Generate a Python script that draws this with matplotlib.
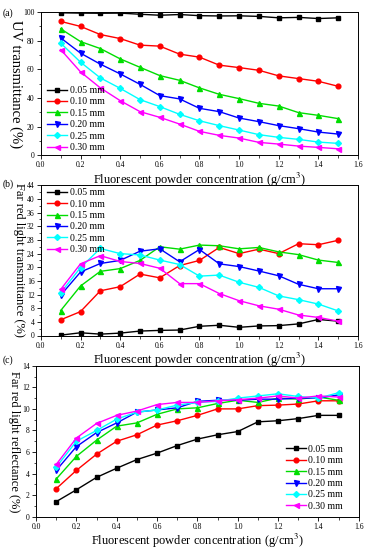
import numpy as np
import matplotlib
matplotlib.use("Agg")
import matplotlib.pyplot as plt
from matplotlib.ticker import MultipleLocator, AutoMinorLocator, FormatStrFormatter

plt.rcParams["font.family"] = ["Liberation Serif", "DejaVu Serif"]
plt.rcParams["mathtext.fontset"] = "stix"

conc = [0.1, 0.2, 0.3, 0.4, 0.5, 0.6, 0.7, 0.8, 0.9, 1.0, 1.1, 1.2, 1.3, 1.4, 1.5]
labels = ["0.05 mm", "0.10 mm", "0.15 mm", "0.20 mm", "0.25 mm", "0.30 mm"]

# (a) UV transmittance (%)
uv_trans = [
    [99.5, 99.3, 99.2, 99.3, 98.5, 97.8, 98.3, 97.5, 97.3, 97.4, 97.0, 96.0, 96.3, 95.5, 96.0],
    [93.5, 90.0, 84.3, 81.5, 76.9, 76.2, 70.6, 68.5, 62.9, 61.2, 59.3, 55.4, 53.5, 51.6, 48.1],
    [88.3, 79.4, 74.5, 67.3, 61.4, 55.6, 52.3, 47.0, 42.5, 39.5, 36.2, 34.3, 29.7, 27.8, 25.5],
    [82.0, 71.3, 63.6, 56.8, 49.5, 41.6, 39.3, 32.7, 30.4, 25.9, 23.4, 20.6, 18.5, 16.1, 14.7],
    [78.3, 65.0, 54.0, 46.7, 38.8, 33.9, 28.5, 24.0, 20.6, 17.5, 14.3, 12.4, 11.0, 9.1, 8.2],
    [73.8, 58.2, 47.0, 38.1, 30.4, 26.4, 21.7, 16.6, 13.8, 11.9, 8.9, 7.7, 6.3, 5.4, 4.4],
]

# (b) Far red light transmittance (%)
fr_trans = [
    [0.1, 0.8, 0.4, 0.7, 1.3, 1.5, 1.6, 2.7, 3.0, 2.4, 2.8, 2.9, 3.4, 4.7, 4.2],
    [4.6, 7.0, 13.1, 14.3, 18.0, 16.9, 20.5, 22.0, 25.8, 24.0, 25.3, 24.0, 26.9, 26.6, 27.9],
    [7.3, 14.5, 18.8, 19.6, 22.0, 26.0, 25.3, 26.5, 26.3, 25.4, 25.8, 24.5, 23.7, 22.1, 21.4],
    [11.8, 18.6, 21.1, 22.0, 24.7, 25.4, 21.6, 25.2, 21.0, 20.2, 18.9, 17.5, 15.0, 13.7, 13.7],
    [12.5, 19.9, 25.5, 24.0, 23.6, 22.1, 20.8, 17.4, 17.7, 15.6, 14.1, 11.6, 10.5, 9.2, 7.2],
    [13.5, 21.0, 23.4, 21.7, 21.1, 19.7, 15.2, 15.2, 12.3, 10.2, 8.7, 7.7, 6.0, 5.3, 4.2],
]

# (c) Far red light reflectance (%)
fr_refl = [
    [1.4, 2.5, 3.65, 4.5, 5.3, 5.9, 6.6, 7.2, 7.6, 7.9, 8.8, 8.9, 9.1, 9.4, 9.4],
    [2.6, 4.3, 5.8, 7.0, 7.6, 8.5, 8.9, 9.4, 10.0, 10.0, 10.3, 10.35, 10.45, 10.75, 10.75],
    [3.5, 5.6, 7.1, 8.4, 8.7, 9.5, 10.0, 10.1, 10.5, 10.8, 10.6, 11.0, 10.9, 11.1, 10.8],
    [4.3, 6.5, 7.8, 8.7, 9.7, 9.9, 10.1, 10.7, 10.8, 10.8, 10.9, 10.9, 11.0, 11.0, 11.3],
    [4.6, 7.0, 8.0, 9.05, 9.7, 9.9, 10.35, 10.6, 10.7, 11.0, 11.2, 11.4, 11.15, 11.0, 11.5],
    [4.85, 7.3, 8.65, 9.4, 9.8, 10.4, 10.6, 10.6, 10.75, 10.85, 11.0, 11.2, 11.0, 11.2, 11.1],
]

colors = ["black", "red", "#00dd00", "blue", "cyan", "magenta"]
markers = ["s", "o", "^", "v", "D", "<"]
msizes = [3.2, 3.4, 3.6, 3.6, 3.0, 3.6]

XLABEL = r"Fluorescent powder concentration (g/cm$^3$)"


def draw_panel(ax, data, ylim, ystep, ylabel, ylabel_size, legend_loc, legend_anchor):
    for vals, c, m, ms, lab in zip(data, colors, markers, msizes, labels):
        ax.plot(conc, vals, color=c, marker=m, markersize=ms, linewidth=1.0, label=lab)
    ax.set_xlim(0, 1.6)
    ax.set_ylim(*ylim)
    ax.xaxis.set_major_locator(MultipleLocator(0.2))
    ax.xaxis.set_minor_locator(AutoMinorLocator(2))
    ax.yaxis.set_major_locator(MultipleLocator(ystep))
    ax.yaxis.set_minor_locator(AutoMinorLocator(2))
    ax.xaxis.set_major_formatter(FormatStrFormatter("%.1f"))
    ax.tick_params(which="major", direction="out", length=3, width=0.6, labelsize=5.5, pad=1.5)
    ax.tick_params(which="minor", direction="out", length=1.8, width=0.5)
    for sp in ax.spines.values():
        sp.set_linewidth(0.7)
    ax.set_xlabel(XLABEL, fontsize=9, labelpad=1)
    ax.set_ylabel(ylabel, fontsize=ylabel_size, rotation=270, labelpad=10, va="bottom")
    ax.legend(loc=legend_loc, bbox_to_anchor=legend_anchor, frameon=False, fontsize=7,
              handlelength=2.1, handletextpad=0.25, labelspacing=0.25, borderaxespad=0.2)


fig = plt.figure(figsize=(3.68, 5.5), dpi=100)
ax_a = fig.add_axes([0.111, 0.718, 0.862, 0.260])
ax_b = fig.add_axes([0.111, 0.390, 0.862, 0.273])
ax_c = fig.add_axes([0.098, 0.0605, 0.877, 0.2745])

draw_panel(ax_a, uv_trans, (0, 100), 20, "UV transmittance (%)", 10.5, "lower left", (0.0, -0.02))
draw_panel(ax_b, fr_trans, (0, 44), 4, "Far red light transmittance (%)", 9, "upper left", (0.0, 1.02))
draw_panel(ax_c, fr_refl, (0, 14), 2, "Far red light reflectance (%)", 9, "lower right", (0.97, 0.0))

fig.text(0.008, 0.985, "(a)", fontsize=7, va="top")
fig.text(0.008, 0.673, "(b)", fontsize=7, va="top")
fig.text(0.008, 0.353, "(c)", fontsize=7, va="top")

fig.savefig("out.png", dpi=100)
plt.close(fig)
